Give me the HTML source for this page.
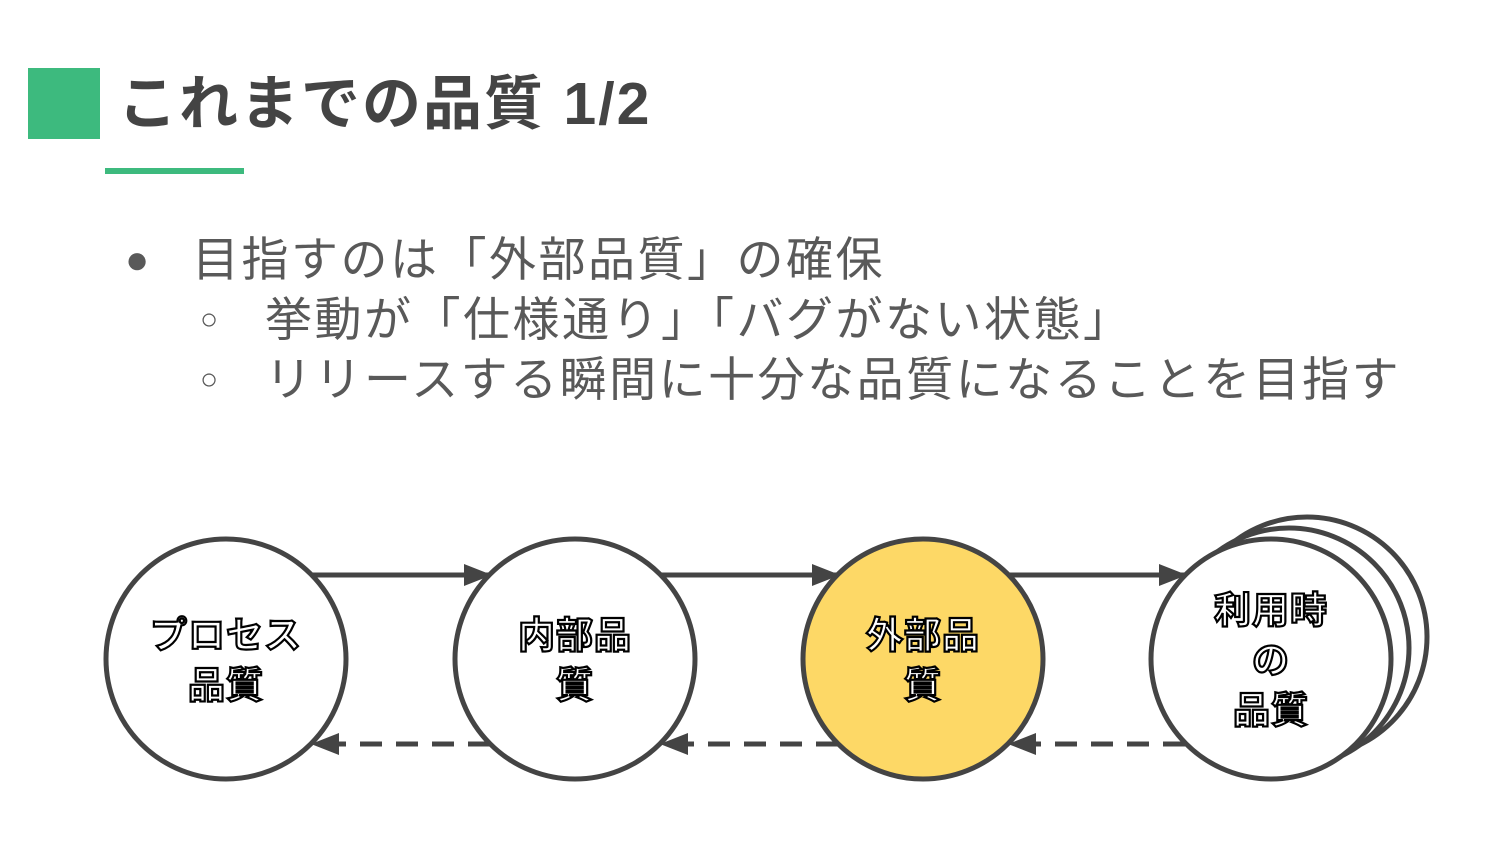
<!DOCTYPE html>
<html><head><meta charset="utf-8"><style>
body{margin:0;width:1500px;height:844px;background:#fff;overflow:hidden;position:relative;font-family:"Liberation Sans","Noto Sans CJK JP",sans-serif;color:#595959}
.t{position:absolute;white-space:nowrap}
.b{letter-spacing:2.5px;font-size:47px}
</style></head><body>
<div style="position:absolute;left:28px;top:68px;width:72px;height:71px;background:#3dba7e"></div>
<div class="t" style="left:118px;top:68px;font-size:59px;font-weight:bold;color:#444;line-height:72px;letter-spacing:2px">これまでの品質 1/2</div>
<div style="position:absolute;left:105px;top:168px;width:139px;height:6px;background:#3dba7e"></div>
<div class="t" style="left:125px;top:232px;font-size:40px;line-height:56px">●</div>
<div class="t b" style="left:192px;top:232px;line-height:56px">目指すのは「外部品質」の確保</div>
<div class="t" style="left:200px;top:292px;font-size:30px;line-height:56px">○</div>
<div class="t b" style="left:265px;top:292px;line-height:56px">挙動が「仕様通り」「バグがない状態」</div>
<div class="t" style="left:200px;top:352px;font-size:30px;line-height:56px">○</div>
<div class="t b" style="left:265px;top:352px;line-height:56px">リリースする瞬間に十分な品質になることを目指す</div>
<svg style="position:absolute;left:0;top:0" width="1500" height="844">
<defs>
<marker id="b" markerWidth="28" markerHeight="22" refX="26" refY="11" orient="auto" markerUnits="userSpaceOnUse"><path d="M0,0L28,11L0,22z" fill="#444"/></marker>
</defs>
<g stroke="#444" stroke-width="5" fill="none">
<line x1="313" y1="575" x2="490" y2="575" marker-end="url(#b)"/>
<line x1="660" y1="575" x2="838" y2="575" marker-end="url(#b)"/>
<line x1="1010" y1="575" x2="1185" y2="575" marker-end="url(#b)"/>
<line x1="490" y1="744" x2="313" y2="744" stroke-dasharray="22,14" marker-end="url(#b)"/>
<line x1="838" y1="744" x2="662" y2="744" stroke-dasharray="22,14" marker-end="url(#b)"/>
<line x1="1185" y1="744" x2="1010" y2="744" stroke-dasharray="22,14" marker-end="url(#b)"/>
</g>
<g stroke="#444" stroke-width="5">
<circle cx="1307" cy="637" r="120" fill="#fff"/>
<circle cx="1289" cy="648" r="120" fill="#fff"/>
<circle cx="1271" cy="659" r="120" fill="#fff"/>
<circle cx="226" cy="659" r="120" fill="#fff"/>
<circle cx="575" cy="659" r="120" fill="#fff"/>
<circle cx="923" cy="659" r="120" fill="#fdd866"/>
</g>
<g font-family="Liberation Sans,Noto Sans CJK JP,sans-serif" font-size="37" font-weight="bold" fill="#fff" stroke="#000" stroke-width="2.2" text-anchor="middle" letter-spacing="1">
<text x="226" y="648">プロセス</text><text x="226" y="698">品質</text>
<text x="575" y="648">内部品</text><text x="575" y="698">質</text>
<text x="923" y="648">外部品</text><text x="923" y="698">質</text>
<text x="1271" y="623">利用時</text><text x="1271" y="673">の</text><text x="1271" y="723">品質</text>
</g>
</svg>
</body></html>
